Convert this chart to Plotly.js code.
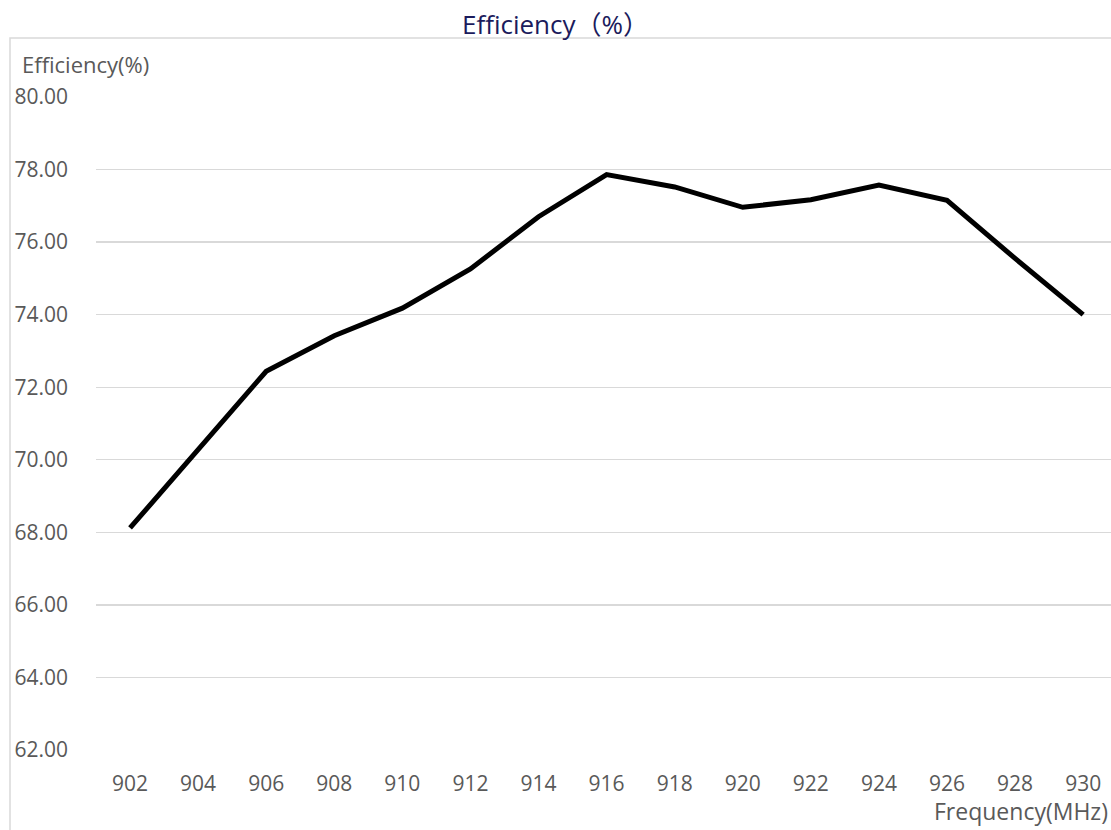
<!DOCTYPE html>
<html>
<head>
<meta charset="utf-8">
<script src="https://cdn.plot.ly/plotly-3.0.1.min.js"></script>
<style>html,body{margin:0;padding:0;background:#fff;}#chart{width:1111px;height:830px;}</style>
</head>
<body>
<div id="chart"></div>
<script>
var frequency = [902, 904, 906, 908, 910, 912, 914, 916, 918, 920, 922, 924, 926, 928, 930];
var efficiency = [68.12, 70.27, 72.44, 73.42, 74.18, 75.26, 76.70, 77.86, 77.52, 76.96, 77.17, 77.57, 77.15, 75.55, 74.00];
var yTicks = [62, 64, 66, 68, 70, 72, 74, 76, 78, 80];
var yTickText = ["62.00", "64.00", "66.00", "68.00", "70.00", "72.00", "74.00", "76.00", "78.00", "80.00"];
var chartTitle = "Efficiency（%）";
var yTitle = "Efficiency(%)";
var xTitle = "Frequency(MHz)";

var fontFam = "Open Sans, Noto Sans CJK SC, sans-serif";
var trace = {
  x: frequency, y: efficiency, type: "scatter", mode: "lines",
  line: {color: "#000000", width: 5, shape: "linear"},
  hoverinfo: "x+y"
};
var layout = {
  width: 1111, height: 830,
  margin: {l: 96, r: 0, t: 97, b: 80},
  paper_bgcolor: "#ffffff", plot_bgcolor: "#ffffff",
  showlegend: false,
  font: {family: fontFam, color: "#595959", size: 21},
  title: {text: chartTitle, font: {family: fontFam, size: 26, color: "#1b1b5c"},
          x: 0.5, xanchor: "center", xref: "container", y: 1 - 25/830, yanchor: "middle", yref: "container"},
  xaxis: {
    range: [901, 901 + 1015 / 34.04], tickvals: frequency, ticktext: frequency.map(String),
    showgrid: false, zeroline: false, showline: false, ticks: "",
    ticklabelstandoff: 19, tickfont: {size: 21, color: "#595959"}, fixedrange: true
  },
  yaxis: {
    range: [62, 80], tickvals: yTicks, ticktext: yTickText,
    showgrid: true, gridcolor: "#d9d9d9", gridwidth: 1.3, zeroline: false, showline: false, ticks: "",
    ticklabelstandoff: 27, tickfont: {size: 21, color: "#595959"}, fixedrange: true
  },
  shapes: [{
    type: "rect", xref: "paper", yref: "paper",
    x0: (10 - 96) / 1015, x1: 1.2, y0: -0.3, y1: (750 - 38) / 653,
    line: {color: "#d9d9d9", width: 1.5}, fillcolor: "rgba(0,0,0,0)", layer: "below"
  }],
  annotations: [
    {text: yTitle, xref: "paper", yref: "paper", x: (20 - 96) / 1015, xanchor: "left",
     y: (750 - 64) / 653, yanchor: "middle", showarrow: false, font: {size: 22, color: "#595959"}},
    {text: xTitle, xref: "paper", yref: "paper", x: (1110 - 96) / 1015, xanchor: "right",
     y: (750 - 811) / 653, yanchor: "middle", showarrow: false, font: {size: 23, color: "#595959"}}
  ]
};
Plotly.newPlot("chart", [trace], layout, {displayModeBar: false, staticPlot: true});
</script>
</body>
</html>
